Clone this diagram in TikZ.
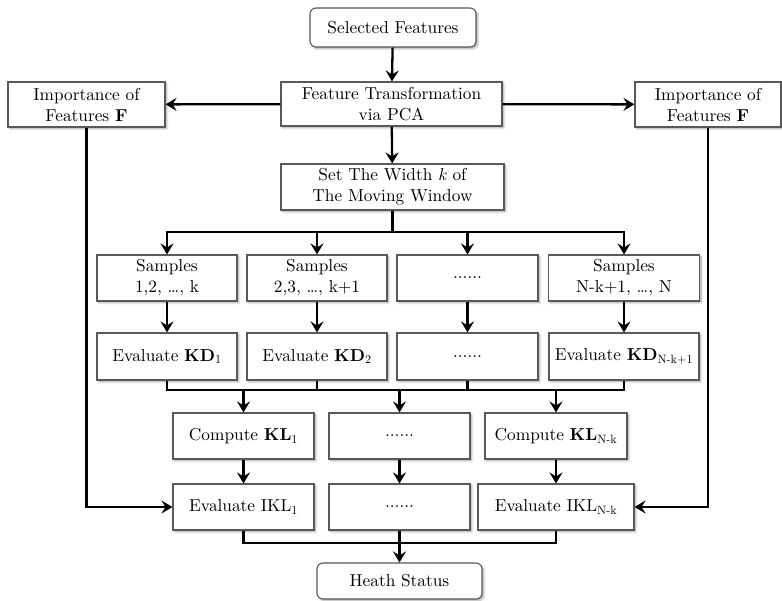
\documentclass[tikz,border=0pt]{standalone}
\usepackage{fontspec}
\setmainfont{lmroman10-regular}[Extension=.otf,BoldFont=lmroman10-bold,ItalicFont=lmroman10-italic,BoldItalicFont=lmroman10-bolditalic]
\usetikzlibrary{arrows.meta,shadows.blur}
\begin{document}
\begin{tikzpicture}[x=1pt,y=-1pt,
  font=\fontsize{17.3}{21}\selectfont,
  box/.style={draw=black!65,line width=1.1pt,fill=white,align=center,inner sep=0pt,
    minimum height=46pt,
    blur shadow={shadow xshift=1.8pt,shadow yshift=-1.8pt,shadow blur radius=2pt,shadow blur steps=6,shadow opacity=35}},
  rbox/.style={box,rounded corners=6pt},
  conn/.style={line width=2.3pt,black},
  arr/.style={conn,-{Stealth[length=11pt,width=13pt,inset=4pt]}}]
\useasboundingbox (0,0) rectangle (782,600);
% top
\node[rbox,minimum width=166pt,minimum height=39pt] (sel) at (393,27.5) {Selected Features};
\node[box,minimum width=221pt,minimum height=44pt] (pca) at (391.5,104) {Feature Transformation\\via PCA};
\node[box,minimum width=157pt,minimum height=45pt] (impL) at (86.5,104.5) {Importance of\\Features \textbf{F}};
\node[box,minimum width=146pt,minimum height=45pt] (impR) at (708,104.5) {Importance of\\Features \textbf{F}};
\node[box,minimum width=223pt,minimum height=46pt] (win) at (392.5,187) {Set The Width \textit{k} of\\The Moving Window};
% samples
\node[box,minimum width=140pt] (s1) at (167,278) {Samples\\1,2, \ldots, k};
\node[box,minimum width=140pt] (s2) at (317,278) {Samples\\2,3, \ldots, k+1};
\node[box,minimum width=141pt] (s3) at (467.5,278) {......};
\node[box,minimum width=151pt] (s4) at (624,278) {Samples\\N-k+1, \ldots, N};
% KD
\node[box,minimum width=140pt,minimum height=47pt] (k1) at (167,356.5) {Evaluate \textbf{KD}\textsubscript{1}};
\node[box,minimum width=140pt,minimum height=47pt] (k2) at (317,356.5) {Evaluate \textbf{KD}\textsubscript{2}};
\node[box,minimum width=141pt,minimum height=47pt] (k3) at (467.5,356.5) {......};
\node[box,minimum width=150pt,minimum height=47pt] (k4) at (624,356.5) {Evaluate \textbf{KD}\textsubscript{N-k+1}};
% KL
\node[box,minimum width=141pt] (l1) at (243.5,436) {Compute \textbf{KL}\textsubscript{1}};
\node[box,minimum width=141pt] (l2) at (399.5,436) {......};
\node[box,minimum width=142pt] (l3) at (556,436) {Compute \textbf{KL}\textsubscript{N-k}};
% IKL
\node[box,minimum width=141pt] (i1) at (243.5,507) {Evaluate IKL\textsubscript{1}};
\node[box,minimum width=141pt] (i2) at (399.5,507) {......};
\node[box,minimum width=156pt] (i3) at (556,507) {Evaluate IKL\textsubscript{N-k}};
\node[rbox,minimum width=165pt,minimum height=36pt] (hs) at (399.5,581) {Heath Status};
% bus coordinates
\coordinate (b1) at (392.5,232);
\coordinate (b2) at (0,390);
\coordinate (b3) at (0,543);
% connectors
\draw[arr] (sel) -- (pca);
\draw[arr] (pca) -- (impL);
\draw[arr] (pca) -- (impR);
\draw[arr] (pca) -- (win);
\draw[conn] (win) -- (b1);
\draw[arr] (b1) -| (s1);
\draw[arr] (b1) -| (s2);
\draw[arr] (b1) -| (s3);
\draw[arr] (b1) -| (s4);
\draw[arr] (s1) -- (k1);
\draw[arr] (s2) -- (k2);
\draw[arr] (s3) -- (k3);
\draw[arr] (s4) -- (k4);
\draw[conn] (k1.south) -- (k1.south |- b2) -- (k4.south |- b2) -- (k4.south);
\draw[conn] (k2.south) -- (k2.south |- b2);
\draw[conn] (k3.south) -- (k3.south |- b2);
\draw[arr] (l1.north |- b2) -- (l1);
\draw[arr] (l2.north |- b2) -- (l2);
\draw[arr] (l3.north |- b2) -- (l3);
\draw[arr] (l1) -- (i1);
\draw[arr] (l2) -- (i2);
\draw[arr] (l3) -- (i3);
\draw[arr] (impL) |- (i1);
\draw[arr] (impR) |- (i3);
\draw[conn] (i1.south) -- (i1.south |- b3) -- (i3.south |- b3) -- (i3.south);
\draw[arr] (i2) -- (hs);
\end{tikzpicture}
\end{document}
